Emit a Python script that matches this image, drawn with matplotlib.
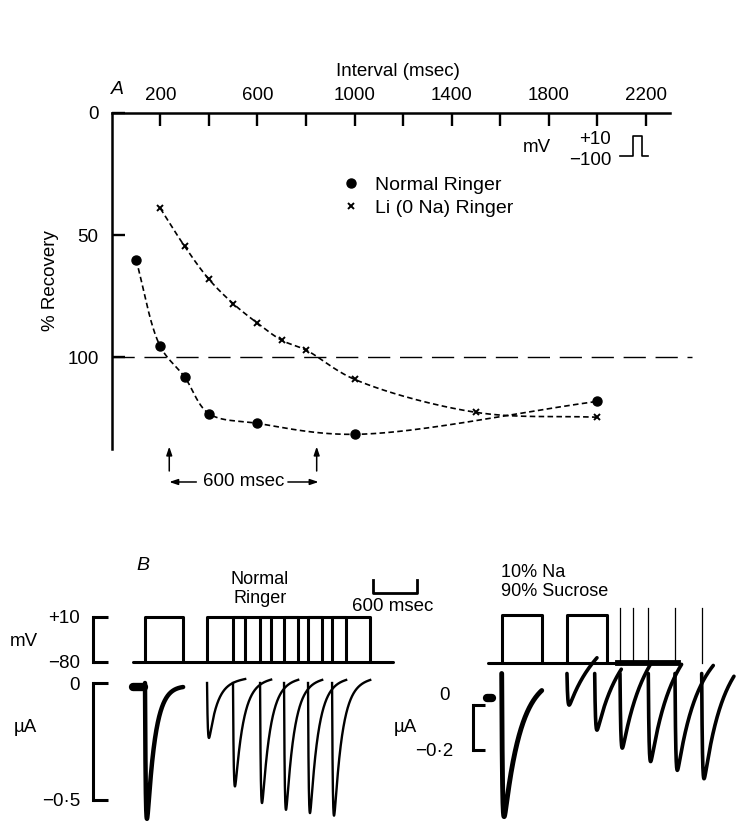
import numpy as np
import matplotlib
matplotlib.use("Agg")
import matplotlib.pyplot as plt

plt.rcParams['font.family'] = ['Liberation Sans', 'DejaVu Sans']
plt.rcParams['lines.scale_dashes'] = False

# ---------------- Panel A data ----------------
normal_interval = [100, 200, 300, 400, 600, 1000, 2000]
normal_recovery = [60, 95.5, 108, 123, 127, 131.5, 118]
li_interval = [200, 300, 400, 500, 600, 700, 800, 1000, 1500, 2000]
li_recovery = [39, 54.5, 68, 78, 86, 93, 97, 109, 122.5, 124.5]
x_ticks = [200, 400, 600, 800, 1000, 1200, 1400, 1600, 1800, 2000, 2200]
x_tick_labels = ['200', '', '600', '', '1000', '', '1400', '', '1800', '', '2200']
y_ticks = [0, 50, 100]
y_tick_labels = ['0', '50', '100']
full_recovery = 100
arrow_times = [237, 844]          # the "600 msec" markers

# ---------------- Panel B data ----------------
ms_per_px = 600 / 44.0
scale_bar_ms = 600
v_hold, v_step = -80, 10
# Normal Ringer
nr_pulse_on = [0, 846, 1200, 1569, 1896, 2223, 2551]
nr_pulse_dur = 520
nr_cond_peak = -0.58
nr_test_on = [846, 1200, 1569, 1896, 2223, 2551]
nr_test_peak = [-0.236, -0.443, -0.514, -0.543, -0.557, -0.568]
nr_test_end = 0.02
# 10% Na / 90% sucrose
su_pulse_on = [0, 886]
su_pulse_dur = 546
su_spikes = [1613, 1795, 1999, 2363, 2727]
su_spike_top = 23
su_cond_peak = -0.496
su_start = 0.14
su_cond_end = 0.08
su_test_on = [890, 1268, 1613, 1999, 2363, 2727]
su_test_peak = [-0.008, -0.119, -0.20, -0.259, -0.296, -0.333]
su_test_end = [0.215, 0.17, 0.20, 0.192, 0.185, 0.142]
su_test_len = [409, 363, 431, 454, 522, 440]

W, H = 736, 823
fig = plt.figure(figsize=(W / 100, H / 100), dpi=100)


def axes_px(l, t, r, b):
    return fig.add_axes([l / W, 1 - b / H, (r - l) / W, (b - t) / H])


def catmull(xs, ys, sx, sy, n=40, alpha=0.5):
    P = np.column_stack([np.asarray(xs, float) * sx, np.asarray(ys, float) * sy])
    P = np.vstack([2 * P[0] - P[1], P, 2 * P[-1] - P[-2]])
    out = []
    for i in range(1, len(P) - 2):
        p0, p1, p2, p3 = P[i - 1], P[i], P[i + 1], P[i + 2]
        t0 = 0.0
        t1 = t0 + np.linalg.norm(p1 - p0) ** alpha
        t2 = t1 + np.linalg.norm(p2 - p1) ** alpha
        t3 = t2 + np.linalg.norm(p3 - p2) ** alpha
        t = np.linspace(t1, t2, n)[:, None]
        A1 = (t1 - t) / (t1 - t0) * p0 + (t - t0) / (t1 - t0) * p1
        A2 = (t2 - t) / (t2 - t1) * p1 + (t - t1) / (t2 - t1) * p2
        A3 = (t3 - t) / (t3 - t2) * p2 + (t - t2) / (t3 - t2) * p3
        B1 = (t2 - t) / (t2 - t0) * A1 + (t - t0) / (t2 - t0) * A2
        B2 = (t3 - t) / (t3 - t1) * A2 + (t - t1) / (t3 - t1) * A3
        C = (t2 - t) / (t2 - t1) * B1 + (t - t1) / (t2 - t1) * B2
        out.append(C)
    C = np.vstack(out)
    return C[:, 0] / sx, C[:, 1] / sy


# ================= Panel A =================
axA = axes_px(111.7, 113, 670.3, 449)
axA.set_xlim(0, 2300)
axA.set_ylim(137.5, 0)
for s in ['right', 'bottom']:
    axA.spines[s].set_visible(False)
for s in ['top', 'left']:
    axA.spines[s].set_linewidth(1.8)
axA.xaxis.tick_top()
axA.set_xticks(x_ticks)
axA.set_xticklabels(x_tick_labels)
axA.set_yticks(y_ticks)
axA.set_yticklabels(y_tick_labels)
axA.tick_params(axis='x', direction='in', length=9.5, width=1.7, pad=6.5, labelsize=13.5)
axA.tick_params(axis='y', direction='in', length=9, width=1.7, pad=9.5, labelsize=13.5)
axA.set_ylabel('% Recovery', fontsize=13.5, labelpad=6)
axA.text(1177, -17, 'Interval (msec)', ha='center', va='center', fontsize=13.5, clip_on=False)

sx, sy = 558.6 / 2300, 336 / 137.5
cx, cy = catmull(normal_interval, normal_recovery, sx, sy)
axA.plot(cx, cy, color='black', lw=1.2, dashes=(4, 2.4), clip_on=False)
cx, cy = catmull(li_interval, li_recovery, sx, sy)
axA.plot(cx, cy, color='black', lw=1.2, dashes=(4, 2.4), clip_on=False)
axA.plot(normal_interval, normal_recovery, 'o', color='black', ms=6.5, clip_on=False,
         label='Normal Ringer')
axA.plot(li_interval, li_recovery, 'x', color='black', ms=5, mew=1.4, clip_on=False,
         label='Li (0 Na) Ringer')
axA.plot([0, 2390], [full_recovery, full_recovery], color='black', lw=1.0,
         dashes=(16, 7), clip_on=False)

leg = axA.legend(loc='upper left', bbox_to_anchor=(0.418, 0.812), frameon=False,
                 fontsize=14, handlelength=0.6, handletextpad=0.95, labelspacing=0.3,
                 borderpad=0, borderaxespad=0)

# arrows "600 msec"
for t in arrow_times:
    axA.annotate('', xy=(t, 136.5), xytext=(t, 146.5), annotation_clip=False,
                 arrowprops=dict(arrowstyle='-|>,head_length=0.5,head_width=0.17',
                                 color='black', lw=1.1, shrinkA=0, shrinkB=0))
mid = 0.5 * (arrow_times[0] + arrow_times[1])
axA.text(mid + 3, 151, '600 msec', ha='center', va='center', fontsize=13.5, clip_on=False)
axA.annotate('', xy=(arrow_times[0], 151), xytext=(mid - 192, 151), annotation_clip=False,
             arrowprops=dict(arrowstyle='-|>,head_length=0.5,head_width=0.17',
                             color='black', lw=1.1, shrinkA=0, shrinkB=0))
axA.annotate('', xy=(arrow_times[1] + 8, 151), xytext=(mid + 185, 151), annotation_clip=False,
             arrowprops=dict(arrowstyle='-|>,head_length=0.5,head_width=0.17',
                             color='black', lw=1.1, shrinkA=0, shrinkB=0))

# inset pulse symbol
axA.text(1751, 14.3, 'mV', ha='center', va='center', fontsize=13.5)
axA.text(2056, 10.8, '+10', ha='right', va='center', fontsize=13.5)
axA.text(2059, 19.3, '\u2212100', ha='right', va='center', fontsize=13.5)
px_ms = 1 / sx
ix0 = 2093
axA.plot([ix0, ix0 + 13 * px_ms, ix0 + 13 * px_ms, ix0 + 22 * px_ms, ix0 + 22 * px_ms, ix0 + 28 * px_ms],
         [17.6, 17.6, 9.4, 9.4, 17.6, 17.6], color='black', lw=1.2, clip_on=False)

fig.text(117 / W, 1 - 90 / H, 'A', fontsize=14, style='italic', ha='center', va='center')

# ================= Panel B =================
fig.text(143 / W, 1 - 565 / H, 'B', fontsize=14, style='italic', ha='center', va='center')
fig.text(260 / W, 1 - 589 / H, 'Normal\nRinger', fontsize=13, ha='center', va='center',
         linespacing=1.2)
fig.text(501 / W, 1 - 582 / H, '10% Na\n90% Sucrose', fontsize=13, ha='left', va='center',
         linespacing=1.1)


def current(t, peak, start, end, dur, tr, td):
    g = np.exp(-t / td) - np.exp(-t / tr)
    g = g / g.max()
    base = start + (end - start) * t / dur
    return base + (peak - start) * g


def voltage_pulses(ax, ons, dur, lw):
    for on in ons:
        ax.plot([on, on, on + dur, on + dur], [v_hold, v_step, v_step, v_hold],
                color='black', lw=lw, solid_joinstyle='round', solid_capstyle='round')


def bracket(ax, lo, hi, labels, length, pad):
    for s in ['top', 'right', 'bottom']:
        ax.spines[s].set_visible(False)
    ax.spines['left'].set_bounds(lo, hi)
    ax.spines['left'].set_linewidth(2.2)
    ax.set_yticks([lo, hi])
    ax.set_yticklabels(labels)
    ax.set_xticks([])
    ax.tick_params(axis='y', direction='in', length=length, width=2.2, pad=pad, labelsize=13.5)
    ax.patch.set_visible(False)


# ---- left: Normal Ringer ----
zL = 145
xlimL = ((92.7 - zL) * ms_per_px, (400 - zL) * ms_per_px)
axvL = axes_px(92.7, 600, 400, 675)
axvL.set_xlim(*xlimL)
axvL.set_ylim(-80 - (675 - 661.7) / 0.5, 10 + (616.7 - 600) / 0.5)
bracket(axvL, -80, 10, ['\u221280', '+10'], 11, 9)
axvL.plot([-164, 3383], [v_hold, v_hold], color='black', lw=2.2, solid_capstyle='round')
voltage_pulses(axvL, nr_pulse_on, nr_pulse_dur, 2.2)
fig.text(24 / W, 1 - 641 / H, 'mV', fontsize=13.5, ha='center', va='center')

# 600 msec scale bar
sb0 = (373.3 - zL) * ms_per_px
axvL.plot([sb0, sb0, sb0 + scale_bar_ms, sb0 + scale_bar_ms], [83, 57, 57, 83],
          color='black', lw=2.0, clip_on=False)
axvL.text(sb0 + scale_bar_ms / 2 - 30, 30, '600 msec', ha='center', va='center',
          fontsize=13.5, clip_on=False)

axiL = axes_px(92.7, 676, 400, 823)
axiL.set_xlim(*xlimL)
axiL.set_ylim(-(823 - 683) / 234, (683 - 676) / 234)
bracket(axiL, -0.5, 0, ['\u22120\u00b75', '0'], 11, 9)
fig.text(25 / W, 1 - 727 / H, '\u00b5A', fontsize=13.5, ha='center', va='center')

t = np.linspace(0, nr_pulse_dur, 600)
axiL.plot(t, current(t, nr_cond_peak, 0, -0.01, nr_pulse_dur, 10, 110), color='black',
          lw=3.2, clip_on=False, solid_capstyle='round')
axiL.plot([-160, -20], [-0.015, -0.015], color='black', lw=6, solid_capstyle='round')
for on, pk in zip(nr_test_on, nr_test_peak):
    axiL.plot(on + t, current(t, pk, 0, nr_test_end, nr_pulse_dur, 10, 110), color='black',
              lw=1.7, clip_on=False)

# ---- right: 10% Na, 90% sucrose ----
zR = 501.7
xlimR = ((473.3 - zR) * ms_per_px, (736 - zR) * ms_per_px)
axvR = axes_px(473.3, 600, 736, 675)
axvR.set_xlim(*xlimR)
axvR.set_ylim(-80 - (675 - 663.3) / 0.537, 10 + (615 - 600) / 0.537)
axvR.axis('off')
axvR.plot([-183, 2409], [v_hold, v_hold], color='black', lw=2.2, solid_capstyle='round')
axvR.plot([su_pulse_on[1] + su_pulse_dur + 150, 2409], [v_hold, v_hold], color='black', lw=4.2)
voltage_pulses(axvR, su_pulse_on, su_pulse_dur, 2.2)
for s_ in su_spikes:
    axvR.plot([s_, s_], [v_hold, su_spike_top], color='black', lw=0.9)

axiR = axes_px(473.3, 676, 736, 823)
axiR.set_xlim(*xlimR)
axiR.set_ylim(-(823 - 705) / 225, (705 - 676) / 225)
bracket(axiR, -0.2, 0, ['\u22120\u00b72', ''], 8.6, 14)
axiR.annotate('0', xy=(0, 0), xycoords=('axes fraction', 'data'), xytext=(-17, 7),
              textcoords='offset points', ha='right', va='center', fontsize=13.5)
fig.text(405 / W, 1 - 727 / H, '\u00b5A', fontsize=13.5, ha='center', va='center')

tau_su = 230
t = np.linspace(0, su_pulse_dur, 600)
g_end = np.exp(-su_pulse_dur / tau_su)
axiR.plot(t, current(t, su_cond_peak, su_start, su_cond_end + 0.6 * g_end, su_pulse_dur, 10, tau_su),
          color='black', lw=3.5, solid_capstyle='round', clip_on=False)
axiR.plot([-200, -130], [0.03, 0.03], color='black', lw=6, solid_capstyle='round')
for on, pk, en, ln in zip(su_test_on, su_test_peak, su_test_end, su_test_len):
    tt = np.linspace(0, ln, 400)
    resid = (pk - su_start) * np.exp(-ln / tau_su)
    axiR.plot(on + tt, current(tt, pk, su_start, en - resid, ln, 10, tau_su), color='black',
              lw=2.6, solid_capstyle='round', clip_on=False)

fig.savefig('out.png', dpi=100)
